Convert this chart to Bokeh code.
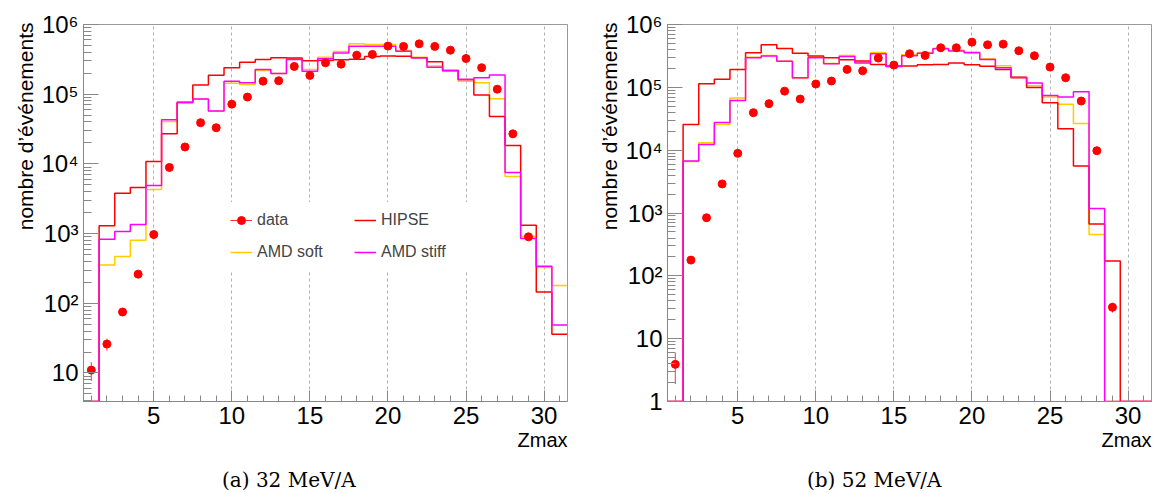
import numpy as np
from bokeh.plotting import figure
from bokeh.layouts import row, column
from bokeh.models import FixedTicker, Legend, LegendItem, Range1d, Title, Div
from bokeh.embed import file_html
from bokeh.resources import INLINE

# ---------------- data ----------------
Z_bins = list(range(1, 32))          # histogram bins (Zmax = 1..31)
Z_data = list(range(1, 30))          # measured points (Zmax = 1..29)

# (a) 32 MeV/A
data32 = [11, 26, 75, 262, 970, 8900, 17500, 39000, 33000, 72000, 91000, 154000,
          156000, 250000, 186000, 282000, 270000, 363000, 372000, 490000, 485000,
          528000, 485000, 428000, 325000, 240000, 118000, 27000, 900]
err32 = [3.3, 5.1, 8.7, 16, 31, 94, 132, 197, 182, 268, 302, 392, 395, 500, 431,
         531, 520, 602, 610, 700, 696, 727, 696, 654, 570, 490, 344, 164, 30]
hipse32 = [0, 1300, 3800, 4600, 10800, 27000, 76000, 135000, 187000, 240000, 288000,
           315000, 333000, 330000, 302000, 305000, 311000, 316000, 348000, 352000,
           350000, 333000, 292000, 218000, 163000, 97000, 48000, 18300, 1320, 145, 36]
amdsoft32 = [0, 355, 470, 800, 4300, 40500, 78000, 85000, 57500, 144000, 138000,
             218000, 198000, 325000, 226000, 340000, 410000, 528000, 516000, 516000,
             425000, 340000, 253000, 214000, 154000, 146000, 86000, 6600, 910, 325, 180]
amdstiff32 = [0, 830, 1070, 1350, 4900, 43000, 76000, 85000, 57500, 154000, 146000,
              226000, 198000, 315000, 213000, 322000, 390000, 488000, 488000, 488000,
              414000, 333000, 244000, 219000, 163000, 172000, 188000, 7500, 850, 340, 49]

# (b) 52 MeV/A
data52 = [3.9, 178, 840, 2900, 8900, 39500, 55000, 87000, 65000, 113000, 126000,
          193000, 183000, 292000, 226000, 342000, 322000, 426000, 426000, 524000,
          475000, 487000, 382000, 318000, 210000, 142000, 60500, 9800, 31.6]
err52 = [2, 13, 29, 54, 94, 199, 235, 295, 255, 336, 355, 439, 428, 540, 475, 585,
         567, 653, 653, 724, 689, 698, 618, 564, 458, 377, 246, 99, 5.6]
hipse52 = [0, 25700, 114000, 134000, 193000, 355000, 475000, 415000, 350000, 314000,
           296000, 274000, 262000, 230000, 218000, 218000, 229000, 231000, 243000,
           229000, 216000, 193000, 142000, 99000, 57000, 22000, 5600, 670, 172, 0, 0]
amdsoft52 = [0, 6600, 13100, 25700, 67500, 300000, 320000, 262000, 138000, 300000,
             240000, 322000, 250000, 360000, 215000, 330000, 360000, 420000, 390000,
             365000, 285000, 220000, 148000, 106000, 70000, 54000, 26500, 455, 0, 0, 0]
amdstiff52 = [0, 6700, 12300, 27500, 61500, 296000, 314000, 259000, 142000, 296000,
              237000, 310000, 243000, 342000, 215000, 318000, 350000, 410000, 377000,
              355000, 278000, 205000, 145000, 117000, 74000, 70000, 85000, 1180, 0, 0, 0]

x_major = [5, 10, 15, 20, 25, 30]
y_label_text = "nombre d\u2019événements"
x_label_text = "Zmax"
captions = ["(a) 32 MeV/A", "(b) 52 MeV/A"]
legend_labels = ["data", "HIPSE", "AMD soft", "AMD stiff"]

RED = "#ff0000"
YELLOW = "#ffcc00"
MAGENTA = "#ff00ff"
AXIS = "#888888"
SANS = "Liberation Sans"

sup = {0: "", 1: "", 2: "\u00b2", 3: "\u00b3", 4: "\u2074", 5: "\u2075", 6: "\u2076"}

FIG_H = 467
CAP_H = 26


def make_panel(data, err, hipse, soft, stiff, ymin, dec_min, width, bl, br,
               with_legend):
    p = figure(width=width, height=FIG_H,
               x_range=Range1d(0.5, 31.5), y_range=Range1d(ymin, 1e6),
               y_axis_type="log", output_backend="svg", toolbar_location=None,
               min_border_left=bl, min_border_right=br,
               min_border_top=24, min_border_bottom=FIG_H - 401)
    p.background_fill_color = "white"
    p.border_fill_color = "white"
    p.outline_line_color = "#999999"
    p.outline_line_width = 1

    # grid
    p.ygrid.visible = False
    p.xgrid.ticker = FixedTicker(ticks=x_major)
    p.xgrid.grid_line_color = "#b0b0b0"
    p.xgrid.grid_line_dash = "3 3"
    p.xgrid.grid_line_width = 1

    # x axis
    xa = p.xaxis[0]
    xa.ticker = FixedTicker(ticks=x_major, minor_ticks=Z_bins)
    xa.major_tick_in = 11
    xa.major_tick_out = 0
    xa.minor_tick_in = 6
    xa.minor_tick_out = 0
    xa.axis_line_color = AXIS
    xa.major_tick_line_color = AXIS
    xa.minor_tick_line_color = AXIS
    xa.major_label_text_font = SANS
    xa.major_label_text_font_size = "24px"
    xa.major_label_text_color = "black"
    xa.major_label_standoff = 5

    # y axis
    ticks = [10.0 ** k for k in range(dec_min, 7)]
    minors = [m * 10.0 ** k for k in range(dec_min - 1, 6) for m in range(2, 10)
              if m * 10.0 ** k >= ymin]
    overrides = {}
    for k in range(dec_min, 7):
        overrides[10.0 ** k] = "1" if k == 0 else "10" + sup[k]
    ya = p.yaxis[0]
    ya.ticker = FixedTicker(ticks=ticks, minor_ticks=minors)
    ya.major_label_overrides = overrides
    ya.major_tick_in = 15
    ya.major_tick_out = 0
    ya.minor_tick_in = 8
    ya.minor_tick_out = 0
    ya.axis_line_color = AXIS
    ya.major_tick_line_color = AXIS
    ya.minor_tick_line_color = AXIS
    ya.major_label_text_font = SANS
    ya.major_label_text_font_size = "24px"
    ya.major_label_text_color = "black"
    ya.major_label_standoff = 5

    # histograms (step lines over bin edges)
    edges = [z - 0.5 for z in Z_bins] + [Z_bins[-1] + 0.5]

    def steps(vals, color):
        yy = [max(v, ymin) for v in vals] + [max(vals[-1], ymin)]
        return p.step(x=edges, y=yy, mode="after", line_color=color, line_width=1.5)

    r_soft = steps(soft, YELLOW)
    r_hipse = steps(hipse, RED)
    r_stiff = steps(stiff, MAGENTA)

    # data with error bars
    lo = [d - e for d, e in zip(data, err)]
    hi = [d + e for d, e in zip(data, err)]
    r_err = p.segment(x0=Z_data, y0=lo, x1=Z_data, y1=hi, line_color=RED,
                      line_width=1, line_alpha=0.8)
    r_data = p.scatter(x=Z_data, y=data, size=8, marker="circle",
                       fill_color=RED, line_color=RED)

    if with_legend:
        items = [LegendItem(label=legend_labels[0], renderers=[r_err, r_data]),
                 LegendItem(label=legend_labels[1], renderers=[r_hipse]),
                 LegendItem(label=legend_labels[2], renderers=[r_soft]),
                 LegendItem(label=legend_labels[3], renderers=[r_stiff])]
        leg = Legend(items=items, location=(139, 131), orientation="horizontal",
                     ncols=2, glyph_width=22, glyph_height=20, label_standoff=5,
                     label_width=85, label_height=20, spacing=12, padding=8,
                     margin=0, background_fill_color="white",
                     background_fill_alpha=1.0, border_line_alpha=0,
                     label_text_font=SANS, label_text_font_size="16px")
        p.add_layout(leg)

    # axis titles in the side panels
    p.add_layout(Title(text=y_label_text, align="right", offset=-2,
                       standoff=4, text_font=SANS, text_font_size="21px",
                       text_font_style="normal", text_color="black"), "left")
    p.add_layout(Title(text=x_label_text, align="right", offset=0,
                       standoff=0, text_font=SANS, text_font_size="20px",
                       text_font_style="normal", text_color="black"), "below")
    return p


def make_caption(text, width, pad_left):
    return Div(text=text, width=width, height=CAP_H, margin=0,
               styles={"font-family": "DejaVu Serif", "font-size": "20px",
                       "line-height": f"{CAP_H}px", "padding-left": f"{pad_left}px",
                       "color": "black", "white-space": "nowrap",
                       "box-sizing": "border-box"})


p1 = make_panel(data32, err32, hipse32, amdsoft32, amdstiff32, 3.9, 1, 578, 83, 11, True)
p2 = make_panel(data52, err52, hipse52, amdsoft52, amdstiff52, 1.0, 0, 575, 89, 2, False)
c1 = make_caption(captions[0], 578, 222)
c2 = make_caption(captions[1], 575, 229)

layout = row(column(p1, c1, spacing=0), column(p2, c2, spacing=0), spacing=0)
open("out.html", "w").write(file_html(layout, INLINE))
